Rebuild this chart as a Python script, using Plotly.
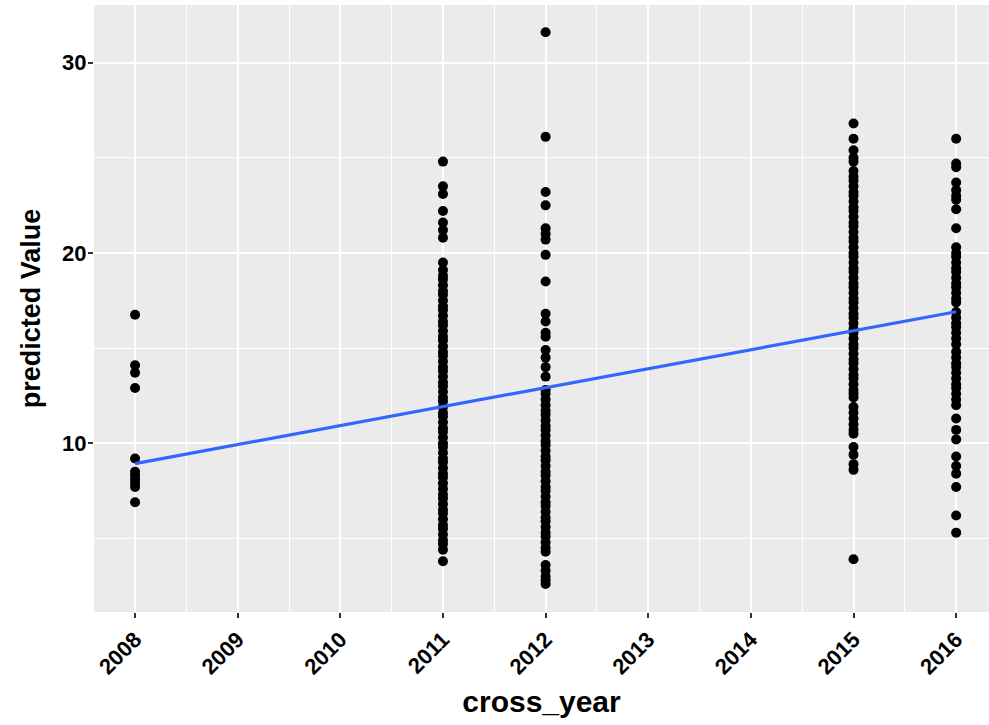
import plotly.graph_objects as go

# predicted values grouped by cross year
vals_2008 = [16.75, 14.1, 13.7, 12.9, 9.2, 8.5, 8.3, 8.1, 7.9, 7.7, 6.9]
vals_2011 = [24.8, 23.5, 23.1, 22.2, 21.6, 21.2, 20.8, 19.5, 19.1, 18.8, 18.6, 18.3,
             18.0, 17.8, 17.5, 17.2, 17.0, 16.7, 16.4, 16.2, 15.9, 15.6, 15.4, 15.1,
             14.8, 14.6, 14.3, 14.0, 13.8, 13.5, 13.2, 13.0, 12.7, 12.4, 12.2, 11.9,
             11.6, 11.4, 11.1, 10.8, 10.6, 10.3, 10.0, 9.8, 9.5, 9.2, 9.0, 8.7, 8.4,
             8.2, 7.9, 7.6, 7.3, 7.1, 6.8, 6.5, 6.3, 6.0, 5.7, 5.5, 5.2, 4.9, 4.7,
             4.4, 3.8]
vals_2012 = [31.6, 26.1, 23.2, 22.5, 21.3, 21.0, 20.7, 19.9, 18.5, 16.8, 16.4, 15.8,
             15.6, 14.9, 14.5, 14.0, 13.5, 12.8, 12.6, 12.3, 12.0, 11.7, 11.5, 11.2,
             10.9, 10.7, 10.4, 10.1, 9.9, 9.6, 9.3, 9.1, 8.8, 8.5, 8.3, 8.0, 7.7, 7.5,
             7.2, 6.9, 6.7, 6.4, 6.1, 5.9, 5.6, 5.3, 5.1, 4.8, 4.5, 4.3, 3.6, 3.3,
             3.0, 2.8, 2.6]
vals_2015 = [26.8, 26.0, 25.4, 25.0, 24.8, 24.3, 24.0, 23.8, 23.5, 23.2, 23.0, 22.7,
             22.4, 22.2, 21.9, 21.6, 21.4, 21.1, 20.8, 20.6, 20.3, 20.0, 19.8, 19.5,
             19.2, 19.0, 18.7, 18.4, 18.2, 17.9, 17.6, 17.4, 17.1, 16.8, 16.6, 16.3,
             16.0, 15.8, 15.5, 15.2, 15.0, 14.7, 14.4, 14.2, 13.9, 13.6, 13.4, 13.1,
             12.8, 12.6, 12.4, 11.9, 11.6, 11.3, 11.0, 10.7, 10.5, 9.8, 9.4, 8.9,
             8.6, 3.9]
vals_2016 = [26.0, 24.7, 24.5, 23.7, 23.3, 23.0, 22.8, 22.3, 21.3, 20.3, 20.0, 19.8,
             19.5, 19.2, 19.0, 18.7, 18.4, 18.2, 17.9, 17.6, 17.4, 16.9, 16.6, 16.3,
             16.1, 15.8, 15.5, 15.2, 14.8, 14.5, 14.2, 14.0, 13.7, 13.4, 13.1, 12.9,
             12.6, 12.3, 12.0, 11.3, 10.7, 10.2, 9.3, 8.8, 8.4, 7.7, 6.2, 5.3]

groups = {2008: vals_2008, 2011: vals_2011, 2012: vals_2012,
          2015: vals_2015, 2016: vals_2016}

# linear fit endpoints
fit_x = [2008, 2016]
fit_y = [8.93, 16.91]

year_ticks = list(range(2008, 2017))

xs, ys = [], []
for yr, v in groups.items():
    xs += [yr] * len(v)
    ys += v

font_family = "Liberation Sans, Arial, Helvetica, sans-serif"

fig = go.Figure()
fig.add_trace(go.Scatter(
    x=xs, y=ys, mode="markers",
    marker=dict(color="black", size=10, line=dict(width=0)),
    showlegend=False, hoverinfo="x+y",
))
fig.add_trace(go.Scatter(
    x=fit_x, y=fit_y, mode="lines",
    line=dict(color="#3366FF", width=3.2),
    showlegend=False,
))

fig.update_layout(
    width=989, height=725,
    margin=dict(l=94, r=0, t=5, b=113),
    paper_bgcolor="white",
    plot_bgcolor="#EBEBEB",
    font=dict(family=font_family, color="black"),
    xaxis=dict(
        range=[2007.6, 2016.32],
        tickmode="array", tickvals=year_ticks,
        ticktext=[str(t) for t in year_ticks],
        tickangle=-45,
        tickfont=dict(size=22, weight="bold", color="black", family=font_family),
        ticks="outside", ticklen=5, tickwidth=1.5, tickcolor="#333333",
        showgrid=True, gridcolor="white", gridwidth=1.6,
        minor=dict(tickvals=[y + 0.5 for y in range(2007, 2017)],
                   showgrid=True, gridcolor="white", gridwidth=0.7, ticks=""),
        zeroline=False, showline=False,
        title=dict(text="cross_year", font=dict(size=30, weight="bold",
                                                family=font_family), standoff=12),
    ),
    yaxis=dict(
        range=[1.13, 33.03],
        tickvals=[10, 20, 30],
        tickfont=dict(size=22, weight="bold", color="black", family=font_family),
        ticks="outside", ticklen=5, tickwidth=1.5, tickcolor="#333333",
        ticklabelstandoff=-3,
        showgrid=True, gridcolor="white", gridwidth=1.6,
        minor=dict(tickvals=[5, 15, 25], showgrid=True, gridcolor="white",
                   gridwidth=0.7, ticks=""),
        zeroline=False, showline=False,
        title=dict(text="predicted Value", font=dict(size=27, weight="bold",
                                                     family=font_family), standoff=13),
    ),
)

fig.write_html("out.html")
